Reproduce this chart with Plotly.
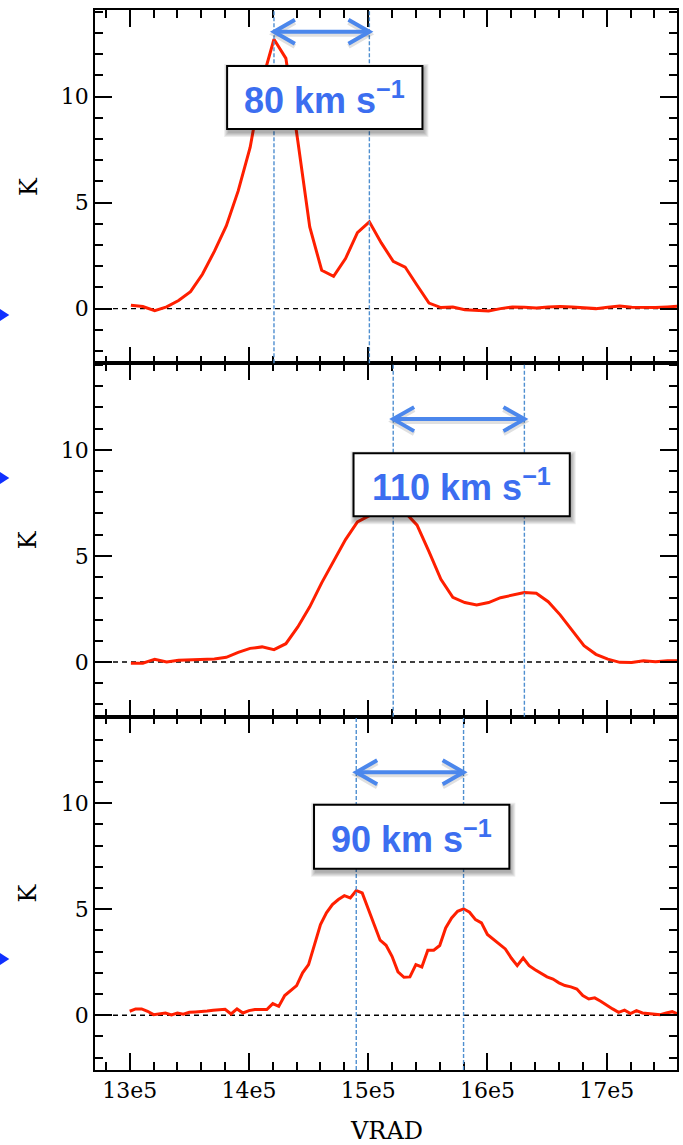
import plotly.graph_objects as go

# ---- spectra -------------------------------------------------------------
# channel velocities in km/s (10 km/s channels for the first two spectra)
vrad_a_kms = [1301, 1311, 1321, 1331, 1341, 1351, 1361, 1371, 1381, 1391,
              1401, 1411, 1421, 1431, 1441, 1451, 1461, 1471, 1481, 1491,
              1501, 1511, 1521, 1531, 1541, 1551, 1561, 1571, 1581, 1591,
              1601, 1611, 1621, 1631, 1641, 1651, 1661, 1671, 1681, 1691,
              1701, 1711, 1721, 1731, 1741, 1751, 1761]
temp_a = [0.16, 0.10, -0.10, 0.08, 0.38, 0.80, 1.62, 2.70, 3.90, 5.55,
          7.60, 10.7, 12.7, 11.8, 7.90, 3.85, 1.81, 1.52, 2.36, 3.58,
          4.09, 3.10, 2.23, 1.96, 1.10, 0.26, 0.05, 0.08, -0.05, -0.08,
          -0.11, 0.00, 0.08, 0.06, 0.03, 0.08, 0.10, 0.08, 0.05, 0.00,
          0.06, 0.12, 0.07, 0.05, 0.05, 0.08, 0.12]

vrad_b_kms = vrad_a_kms
temp_b = [-0.06, -0.06, 0.13, 0.00, 0.08, 0.11, 0.11, 0.14, 0.22, 0.45,
          0.64, 0.71, 0.58, 0.86, 1.65, 2.60, 3.73, 4.75, 5.77, 6.60,
          6.90, 7.10, 7.20, 7.05, 6.45, 5.20, 3.90, 3.05, 2.80, 2.69,
          2.80, 3.03, 3.16, 3.27, 3.24, 2.84, 2.22, 1.48, 0.77, 0.36,
          0.13, -0.02, -0.03, 0.06, 0.01, 0.06, 0.06]

# 5 km/s channels
vrad_c_kms = [1300, 1305, 1310, 1315, 1320, 1325, 1330, 1335, 1340, 1345,
              1350, 1355, 1360, 1365, 1370, 1375, 1380, 1385, 1390, 1395,
              1400, 1405, 1410, 1415, 1420, 1425, 1430, 1435, 1440, 1445,
              1450, 1455, 1460, 1465, 1470, 1475, 1480, 1485, 1490, 1495,
              1500, 1505, 1510, 1515, 1520, 1525, 1530, 1535, 1540, 1545,
              1550, 1555, 1560, 1565, 1570, 1575, 1580, 1585, 1590, 1595,
              1600, 1605, 1610, 1615, 1620, 1625, 1630, 1635, 1640, 1645,
              1650, 1655, 1660, 1665, 1670, 1675, 1680, 1685, 1690, 1695,
              1700, 1705, 1710, 1715, 1720, 1725, 1730, 1735, 1740, 1745,
              1750, 1755, 1760]
temp_c = [0.19, 0.30, 0.30, 0.19, 0.03, 0.08, 0.11, 0.02, 0.11, 0.05,
          0.14, 0.16, 0.17, 0.20, 0.24, 0.26, 0.28, 0.06, 0.30, 0.11,
          0.22, 0.27, 0.27, 0.27, 0.55, 0.42, 0.93, 1.16, 1.40, 2.00,
          2.39, 3.33, 4.28, 4.83, 5.22, 5.46, 5.64, 5.53, 5.88, 5.77,
          4.98, 4.28, 3.54, 3.30, 2.78, 2.05, 1.79, 1.81, 2.39, 2.28,
          3.07, 3.07, 3.29, 4.12, 4.59, 4.90, 5.02, 4.86, 4.51, 4.36,
          3.81, 3.57, 3.36, 3.13, 2.70, 2.34, 2.70, 2.34, 2.15, 1.97,
          1.81, 1.71, 1.53, 1.40, 1.34, 1.24, 0.93, 0.77, 0.82, 0.66,
          0.46, 0.30, 0.14, 0.24, 0.08, 0.22, 0.11, 0.08, 0.08, 0.03,
          0.11, 0.17, 0.05]

# velocities of the two emission peaks marked in each panel (km/s)
peaks_kms = [(1421, 1501), (1521, 1631), (1490, 1580)]

# label box centres (x in km/s, y in K) and sizes in pixels
box_centre = [(1463.6, 9.95), (1578.4, 8.35), (1536.5, 8.42)]
box_size_px = [(196, 63), (217, 63), (196, 64)]
arrow_level = [13.05, 11.45, 11.46]

x_tick_vals = [1300000, 1400000, 1500000, 1600000, 1700000]
x_tick_text = ["13e5", "14e5", "15e5", "16e5", "17e5"]

# ---- layout constants ------------------------------------------------------
W, H = 683, 1145
M_L, M_R, M_T, M_B = 95, 4, 10, 75
PLOT_W = W - M_L - M_R
PLOT_H = H - M_T - M_B
PANEL_H = PLOT_H / 3
X_RANGE = [1270900, 1759000]
Y_RANGE = [-2.58, 14.08]

RED = "#ff1f00"
GUIDE = "#4f8fd0"
ARROW = "#4b87ec"
LABEL = "#3c6ef0"
SERIF = "DejaVu Serif"
SANS = "Liberation Sans"


def dx(px):
    return px * (X_RANGE[1] - X_RANGE[0]) / PLOT_W


def dy(px):
    return px * (Y_RANGE[1] - Y_RANGE[0]) / PANEL_H


spectra = [(vrad_a_kms, temp_a), (vrad_b_kms, temp_b), (vrad_c_kms, temp_c)]

fig = go.Figure()
shapes = []
annotations = []
layout_axes = {}

for i, (vk, tk) in enumerate(spectra):
    n = i + 1
    xa = "x" if n == 1 else f"x{n}"
    ya = "y" if n == 1 else f"y{n}"
    fig.add_trace(go.Scatter(
        x=[v * 1000 for v in vk], y=tk, mode="lines",
        line=dict(color=RED, width=3), xaxis=xa, yaxis=ya,
        showlegend=False, hoverinfo="skip"))

    top = 1 - i / 3
    layout_axes[f"xaxis{'' if n == 1 else n}"] = dict(
        domain=[0, 1], range=X_RANGE, anchor=ya,
        showline=True, linecolor="black", linewidth=1.6, mirror="ticks",
        ticks="inside", ticklen=17, tickwidth=1.6, tickcolor="black",
        tickmode="array", tickvals=x_tick_vals, ticktext=x_tick_text,
        showticklabels=(n == 3),
        tickfont=dict(family=SERIF, size=22, color="black"),
        minor=dict(ticks="inside", ticklen=8, tickwidth=1.6, tickcolor="black",
                   tickmode="linear", tick0=1300000, dtick=20000),
        showgrid=False, zeroline=False)
    layout_axes[f"yaxis{'' if n == 1 else n}"] = dict(
        domain=[top - 1 / 3, top], range=Y_RANGE, anchor=xa,
        showline=True, linecolor="black", linewidth=1.6, mirror="ticks",
        ticks="inside", ticklen=17, tickwidth=1.6, tickcolor="black",
        tickmode="linear", tick0=0, dtick=5,
        tickfont=dict(family=SERIF, size=22, color="black"),
        minor=dict(ticks="inside", ticklen=8, tickwidth=1.6, tickcolor="black",
                   tickmode="linear", tick0=0, dtick=1),
        showgrid=False, zeroline=False)

    # zero baseline
    shapes.append(dict(type="line", xref=f"{xa} domain", yref=ya,
                       x0=0, x1=1, y0=0, y1=0, layer="below",
                       line=dict(color="black", width=1.4, dash="5px,4px")))

    # peak markers
    v1, v2 = peaks_kms[i]
    for v in (v1, v2):
        shapes.append(dict(type="line", xref=xa, yref=f"{ya} domain",
                           x0=v * 1000, x1=v * 1000, y0=0, y1=1, layer="above",
                           line=dict(color=GUIDE, width=1.4, dash="4px,2px")))

    # label box with soft shadow
    cx, cy = box_centre[i]
    cx *= 1000
    bw, bh = box_size_px[i]
    for k in range(5):
        grow = k
        shapes.append(dict(type="rect", xref=xa, yref=ya, layer="above",
                           x0=cx - dx(bw / 2 - 1 + grow), x1=cx + dx(bw / 2 + 2 + grow),
                           y0=cy - dy(bh / 2 + 4 + grow), y1=cy + dy(bh / 2 - 2 + grow),
                           fillcolor="rgba(0,0,0,0.07)", line=dict(width=0)))
    shapes.append(dict(type="rect", xref=xa, yref=ya, layer="above",
                       x0=cx - dx(bw / 2), x1=cx + dx(bw / 2),
                       y0=cy - dy(bh / 2), y1=cy + dy(bh / 2),
                       fillcolor="white", line=dict(color="black", width=2)))
    annotations.append(dict(
        xref=xa, yref=ya, x=cx, y=cy, showarrow=False,
        xanchor="center", yanchor="middle",
        text=f"<b>{v2 - v1} km s<sup>\u22121</sup></b>",
        font=dict(family=SANS, size=36, color=LABEL)))

    # double-headed arrow spanning the two peaks
    ay = arrow_level[i]
    xl, xr = v1 * 1000, v2 * 1000
    hx, hy = dx(21), dy(12)
    for off, col, wid in ((2.5, "rgba(0,0,0,0.12)", 5), (0, ARROW, 4)):
        yy = ay - dy(off)
        shapes.append(dict(type="path", xref=xa, yref=ya, layer="above",
                           path=f"M {xl},{yy} L {xr},{yy}",
                           line=dict(color=col, width=wid)))
        shapes.append(dict(type="path", xref=xa, yref=ya, layer="above",
                           path=f"M {xl + hx},{yy + hy} L {xl},{yy} L {xl + hx},{yy - hy}",
                           line=dict(color=col, width=wid)))
        shapes.append(dict(type="path", xref=xa, yref=ya, layer="above",
                           path=f"M {xr - hx},{yy + hy} L {xr},{yy} L {xr - hx},{yy - hy}",
                           line=dict(color=col, width=wid)))

    # axis title for each panel
    annotations.append(dict(
        xref="paper", yref=f"{ya} domain", x=(28 - M_L) / PLOT_W, y=0.5,
        xanchor="center", yanchor="middle", showarrow=False, textangle=-90,
        text="K", font=dict(family=SERIF, size=24, color="black")))

# small pointers on the left edge
for py in (315, 478, 959):
    px0 = (-2 - M_L) / PLOT_W
    px1 = (9 - M_L) / PLOT_W
    yc = (H - M_B - py) / PLOT_H
    hh = 7 / PLOT_H
    shapes.append(dict(type="path", xref="paper", yref="paper", layer="above",
                       path=f"M {px0},{yc + hh} L {px1},{yc} L {px0},{yc - hh} Z",
                       fillcolor="#1030ff", line=dict(width=0)))

annotations.append(dict(
    xref="paper", yref="paper", x=(387 - M_L) / PLOT_W, y=(H - M_B - 1131) / PLOT_H,
    xanchor="center", yanchor="middle", showarrow=False,
    text="VRAD", font=dict(family=SERIF, size=24, color="black")))

fig.update_layout(
    width=W, height=H,
    margin=dict(l=M_L, r=M_R, t=M_T, b=M_B),
    paper_bgcolor="white", plot_bgcolor="white",
    shapes=shapes, annotations=annotations,
    **layout_axes)

fig.write_html("out.html")
